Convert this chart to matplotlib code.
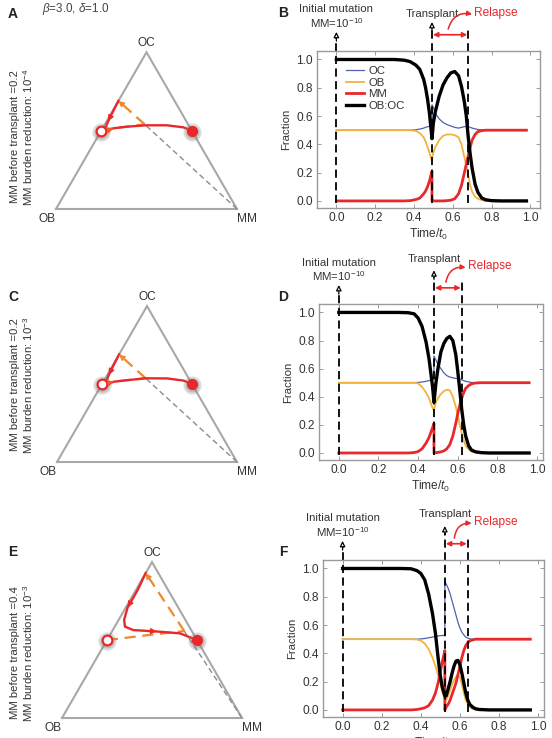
import numpy as np
import matplotlib
matplotlib.use("Agg")
import matplotlib.pyplot as plt

plt.rcParams['font.family'] = ['Liberation Sans', 'DejaVu Sans']
plt.rcParams['mathtext.fontset'] = 'custom'
plt.rcParams['mathtext.rm'] = 'Liberation Sans'
plt.rcParams['mathtext.it'] = 'Liberation Sans:italic'

# ---------------- data ----------------
series_names = ["OC", "OB", "MM", "OB:OC"]

# Panel B
tB = [0.0, 0.1, 0.2, 0.3, 0.35, 0.38, 0.41, 0.43, 0.45, 0.46, 0.47, 0.48, 0.493, 0.493,
      0.50, 0.51, 0.53, 0.55, 0.57, 0.59, 0.61, 0.63, 0.645, 0.66, 0.67, 0.68, 0.69, 0.70,
      0.715, 0.73, 0.75, 0.77, 0.80, 0.85, 0.90, 0.98]
ocB = [0.5, 0.5, 0.5, 0.5, 0.5, 0.5, 0.503, 0.508, 0.515, 0.52, 0.525, 0.527, 0.53, 0.68,
       0.66, 0.62, 0.58, 0.555, 0.54, 0.53, 0.52, 0.515, 0.52, 0.525, 0.527, 0.525, 0.52, 0.515,
       0.51, 0.505, 0.502, 0.5, 0.5, 0.5, 0.5, 0.5]
obB = [0.5, 0.5, 0.5, 0.5, 0.5, 0.5, 0.495, 0.48, 0.45, 0.42, 0.38, 0.34, 0.28, 0.30,
       0.34, 0.38, 0.43, 0.46, 0.47, 0.47, 0.465, 0.45, 0.40, 0.31, 0.25, 0.18, 0.11, 0.065,
       0.03, 0.015, 0.005, 0.0, 0.0, 0.0, 0.0, 0.0]
mmB = [0.0, 0.0, 0.0, 0.0, 0.0, 0.002, 0.01, 0.02, 0.05, 0.07, 0.10, 0.14, 0.21, 0.0,
       0.0, 0.0, 0.0, 0.0, 0.002, 0.005, 0.015, 0.05, 0.11, 0.20, 0.26, 0.32, 0.38, 0.43,
       0.47, 0.49, 0.497, 0.5, 0.5, 0.5, 0.5, 0.5]
ratioB = [1.0, 1.0, 1.0, 1.0, 0.995, 0.985, 0.96, 0.93, 0.86, 0.80, 0.72, 0.62, 0.44, 0.44,
          0.55, 0.63, 0.74, 0.82, 0.87, 0.905, 0.915, 0.885, 0.81, 0.70, 0.60, 0.45, 0.33, 0.23,
          0.12, 0.06, 0.02, 0.008, 0.002, 0.0, 0.0, 0.0]

# Panel D
tD = [0.0, 0.1, 0.2, 0.3, 0.35, 0.38, 0.40, 0.42, 0.44, 0.455, 0.465, 0.473, 0.48, 0.48,
      0.49, 0.50, 0.515, 0.53, 0.545, 0.56, 0.575, 0.59, 0.60, 0.61, 0.62, 0.63, 0.64, 0.655,
      0.67, 0.69, 0.72, 0.76, 0.85, 0.96]
ocD = [0.5, 0.5, 0.5, 0.5, 0.5, 0.5, 0.502, 0.505, 0.51, 0.515, 0.52, 0.523, 0.525, 0.69,
       0.66, 0.63, 0.60, 0.57, 0.55, 0.54, 0.535, 0.53, 0.53, 0.525, 0.52, 0.515, 0.51, 0.505,
       0.502, 0.5, 0.5, 0.5, 0.5, 0.5]
obD = [0.5, 0.5, 0.5, 0.5, 0.5, 0.5, 0.495, 0.47, 0.43, 0.39, 0.35, 0.32, 0.30, 0.31,
       0.36, 0.39, 0.42, 0.44, 0.45, 0.445, 0.40, 0.33, 0.27, 0.20, 0.14, 0.09, 0.05, 0.025,
       0.01, 0.004, 0.0, 0.0, 0.0, 0.0]
mmD = [0.0, 0.0, 0.0, 0.0, 0.0, 0.003, 0.01, 0.03, 0.07, 0.11, 0.15, 0.18, 0.21, 0.0,
       0.002, 0.004, 0.008, 0.015, 0.03, 0.06, 0.12, 0.21, 0.28, 0.34, 0.39, 0.43, 0.46, 0.48,
       0.492, 0.498, 0.5, 0.5, 0.5, 0.5]
ratioD = [1.0, 1.0, 1.0, 1.0, 0.998, 0.99, 0.96, 0.90, 0.79, 0.67, 0.56, 0.47, 0.36, 0.36,
          0.50, 0.60, 0.72, 0.78, 0.815, 0.83, 0.80, 0.70, 0.58, 0.45, 0.31, 0.20, 0.12, 0.05,
          0.02, 0.008, 0.002, 0.0, 0.0, 0.0]

# Panel F
tF = [0.0, 0.1, 0.2, 0.3, 0.35, 0.38, 0.40, 0.42, 0.44, 0.46, 0.475, 0.49, 0.50, 0.51, 0.523, 0.523,
      0.53, 0.54, 0.55, 0.56, 0.57, 0.58, 0.59, 0.60, 0.61, 0.62, 0.63, 0.64, 0.65, 0.665,
      0.68, 0.70, 0.75, 0.85, 0.96]
ocF = [0.5, 0.5, 0.5, 0.5, 0.5, 0.5, 0.502, 0.505, 0.51, 0.515, 0.52, 0.523, 0.525, 0.527, 0.525, 0.91,
       0.89, 0.86, 0.82, 0.77, 0.72, 0.67, 0.62, 0.58, 0.55, 0.53, 0.515, 0.508, 0.503, 0.5,
       0.5, 0.5, 0.5, 0.5, 0.5]
obF = [0.5, 0.5, 0.5, 0.5, 0.5, 0.498, 0.49, 0.47, 0.43, 0.37, 0.31, 0.24, 0.19, 0.13, 0.07, 0.07,
       0.07, 0.10, 0.14, 0.18, 0.21, 0.235, 0.245, 0.23, 0.18, 0.12, 0.07, 0.04, 0.02, 0.008,
       0.003, 0.0, 0.0, 0.0, 0.0]
mmF = [0.0, 0.0, 0.0, 0.0, 0.0, 0.003, 0.008, 0.015, 0.03, 0.07, 0.12, 0.20, 0.27, 0.34, 0.42, 0.0,
       0.02, 0.04, 0.07, 0.11, 0.15, 0.19, 0.25, 0.31, 0.37, 0.42, 0.455, 0.475, 0.488, 0.495,
       0.5, 0.5, 0.5, 0.5, 0.5]
ratioF = [1.0, 1.0, 1.0, 1.0, 0.998, 0.985, 0.965, 0.92, 0.82, 0.68, 0.54, 0.35, 0.24, 0.16, 0.10, 0.10,
          0.10, 0.15, 0.20, 0.26, 0.31, 0.345, 0.35, 0.32, 0.26, 0.19, 0.12, 0.07, 0.04, 0.02,
          0.008, 0.003, 0.0, 0.0, 0.0]

# event times (initial mutation, transplant, relapse)
events = {"B": (0.0, 0.493, 0.68), "D": (0.0, 0.48, 0.62), "F": (0.0, 0.523, 0.64)}

# ternary trajectories: (OC fraction, MM fraction)
healthy = (0.5, 0.0)
disease = (0.5, 0.5)
# A
preA_oc = [0.5, 0.515, 0.525, 0.54]
preA_mm = [0.0, 0.06, 0.128, 0.22]
jumpA = (0.69, 0.0)
postA_oc = [0.69, 0.62, 0.56, 0.515, 0.50, 0.515, 0.525, 0.534, 0.534, 0.521, 0.5]
postA_mm = [0.0, 0.004, 0.008, 0.015, 0.03, 0.06, 0.128, 0.229, 0.345, 0.443, 0.5]
# C
preC_oc = [0.5, 0.515, 0.525, 0.537]
preC_mm = [0.0, 0.06, 0.128, 0.224]
jumpC = (0.69, 0.0)
postC_oc = [0.69, 0.62, 0.56, 0.52, 0.505, 0.515, 0.525, 0.537, 0.536, 0.522, 0.5]
postC_mm = [0.0, 0.004, 0.008, 0.015, 0.03, 0.06, 0.128, 0.224, 0.345, 0.443, 0.5]
# E
preE_oc = [0.5, 0.53, 0.558]
preE_mm = [0.0, 0.2, 0.40]
jumpE = (0.93, 0.0)
postE_oc = [0.93, 0.82, 0.71, 0.63, 0.586, 0.564, 0.555, 0.543, 0.5]
postE_mm = [0.0, 0.01, 0.01, 0.03, 0.057, 0.114, 0.249, 0.384, 0.5]

# ---------------- style ----------------
C_OC = "#4f62a8"
C_OB = "#f2b33d"
C_MM = "#e8282b"
C_RAT = "#000000"
C_ORANGE = "#ee8a2a"
C_TXT = "#333333"
C_FRAME = "#9a9a9a"
FS = 8.2
FS_TICK = 8.6

W, H = 552, 738
fig = plt.figure(figsize=(W / 100, H / 100), dpi=100)


def add_ax(l, t, r, b):
    return fig.add_axes([l / W, 1 - b / H, (r - l) / W, (b - t) / H])


def tern(oc, mm):
    oc = np.asarray(oc, float)
    mm = np.asarray(mm, float)
    return mm + 0.5 * oc, oc * np.sqrt(3) / 2


def head(ax, x0, y0, x1, y1, col, scale=9):
    d = np.array([x1 - x0, y1 - y0])
    d = d / np.hypot(*d)
    ax.annotate("", xy=(x1, y1), xytext=(x1 - 0.035 * d[0], y1 - 0.035 * d[1]),
                arrowprops=dict(arrowstyle="-|>", color=col, lw=0.8, mutation_scale=scale,
                                shrinkA=0, shrinkB=0))


def triangle_panel(ox, oy, wid, pre, jump, post, side1, side2, sidey, letter, lettery, arrows):
    pad_l, pad_r, pad_t, pad_b = 45, 45, 180, 25
    ax = add_ax(ox - pad_l, oy - pad_t, ox + wid + pad_r, oy + pad_b)
    ax.set_xlim(-pad_l / wid, 1 + pad_r / wid)
    ax.set_ylim(-pad_b / wid, pad_t / wid)
    ax.axis("off")
    cx, cy = tern([0, 0, 1, 0], [0, 1, 0, 0])
    ax.plot(cx, cy, color="#a8a8a8", lw=1.5, solid_joinstyle="miter")
    ax.text(0.5, np.sqrt(3) / 2 + 0.05, "OC", ha="center", va="center", fontsize=8.6, color=C_TXT)
    ax.text(-0.05, -0.055, "OB", ha="center", va="center", fontsize=8.6, color=C_TXT)
    ax.text(1.055, -0.055, "MM", ha="center", va="center", fontsize=8.6, color=C_TXT)
    # gray dashed from MM corner to transplant point
    px, py = tern([0, pre[0][-1]], [1, pre[1][-1]])
    ax.plot(px, py, ls=(0, (4, 2.5)), color="#8c8c8c", lw=1.0)
    # pre-transplant path (orange dashed)
    x, y = tern(pre[0], pre[1])
    ax.plot(x, y, ls=(0, (5, 3)), color=C_ORANGE, lw=1.6)
    # transplant jump (orange dashed with arrow)
    jx, jy = tern([pre[0][-1], jump[0]], [pre[1][-1], jump[1]])
    ax.plot(jx, jy, ls=(0, (5, 3)), color=C_ORANGE, lw=1.6)
    head(ax, jx[0], jy[0], jx[1], jy[1], C_ORANGE)
    # post-transplant path (red)
    x, y = tern(post[0], post[1])
    ax.plot(x, y, color=C_MM, lw=1.7)
    for (i0, i1, col) in arrows:
        head(ax, x[i0], y[i0], x[i1], y[i1], col)
    # fixed points with glow
    hx, hy = tern([healthy[0]], [healthy[1]])
    dx, dy = tern([disease[0]], [disease[1]])
    for (gx, gy) in [(hx, hy), (dx, dy)]:
        ax.plot(gx, gy - 0.008, "o", ms=13, color="#888888", alpha=0.3, mec="none")
        ax.plot(gx, gy - 0.008, "o", ms=10, color="#777777", alpha=0.3, mec="none")
    ax.plot(hx, hy, "o", ms=7, mfc="white", mec=C_MM, mew=1.6)
    ax.plot(dx, dy, "o", ms=7, color=C_MM, mec=C_MM)
    fig.text(15 / W, 1 - sidey / H, side1, rotation=90, ha="center", va="center", fontsize=FS, color=C_TXT)
    fig.text(28 / W, 1 - sidey / H, side2, rotation=90, ha="center", va="center", fontsize=FS, color=C_TXT)
    fig.text(13 / W, 1 - lettery / H, letter, ha="center", va="center", fontsize=10, fontweight="bold", color="#222222")
    return ax


triangle_panel(56, 209, 181, (preA_oc, preA_mm), jumpA, (postA_oc, postA_mm),
               "MM before transplant =0.2", "MM burden reduction: 10$^{-4}$", 137, "A", 14,
               [(1, 2, C_MM), (4, 5, "#ee5a2a")])
triangle_panel(57, 462, 180, (preC_oc, preC_mm), jumpC, (postC_oc, postC_mm),
               "MM before transplant =0.2", "MM burden reduction: 10$^{-3}$", 385, "C", 297,
               [(1, 2, C_MM), (4, 5, "#ee5a2a")])
triangle_panel(62, 718, 180, (preE_oc, preE_mm), jumpE, (postE_oc, postE_mm),
               "MM before transplant =0.4", "MM burden reduction: 10$^{-3}$", 653, "E", 552,
               [(1, 2, C_MM), (5, 6, C_MM)])

fig.text(42 / W, 1 - 9 / H, r"$\it{\beta}$=3.0, $\it{\delta}$=1.0", ha="left", va="center",
         fontsize=8.4, color="#444444")


def series_panel(box, xlim, t, oc, ob, mm, ratio, ev, letter, letter_y, trans_y, legend=False):
    ax = add_ax(*box)
    ax.set_xlim(*xlim)
    ax.set_ylim(-0.05, 1.06)
    ax.plot(t, oc, color=C_OC, lw=0.9, label=series_names[0])
    ax.plot(t, ob, color=C_OB, lw=1.3, label=series_names[1])
    ax.plot(t, mm, color=C_MM, lw=2.0, label=series_names[2])
    ax.plot(t, ratio, color=C_RAT, lw=2.4, label=series_names[3])
    for s in ax.spines.values():
        s.set_color(C_FRAME)
        s.set_linewidth(1.0)
    ax.set_xticks([0.0, 0.2, 0.4, 0.6, 0.8, 1.0])
    ax.set_yticks([0.0, 0.2, 0.4, 0.6, 0.8, 1.0])
    ax.xaxis.set_major_formatter(matplotlib.ticker.FormatStrFormatter("%.1f"))
    ax.yaxis.set_major_formatter(matplotlib.ticker.FormatStrFormatter("%.1f"))
    ax.tick_params(direction="in", top=True, right=True, length=3, width=0.7, color=C_FRAME,
                   labelsize=FS_TICK, labelcolor=C_TXT, pad=3)
    ax.set_ylabel("Fraction", fontsize=FS, color=C_TXT, labelpad=4)
    ax.set_xlabel("Time/$\\it{t}_0$", fontsize=FS_TICK, color=C_TXT, labelpad=2)
    t0, t1, t2 = ev
    text_y, tip_y = trans_y
    dash = (0, (4.5, 2.5))
    # initial mutation
    ax.plot([t0, t0], [-0.015, 1.15], ls=dash, color="k", lw=1.3, clip_on=False)
    ax.annotate("", xy=(t0, 1.195), xytext=(t0, 1.13), annotation_clip=False,
                arrowprops=dict(arrowstyle="-|>", fc="white", ec="black", lw=0.9, mutation_scale=8,
                                shrinkA=0, shrinkB=0))
    ax.text(t0, 1.355, "Initial mutation", ha="center", va="center", fontsize=FS, color=C_TXT, clip_on=False)
    ax.text(t0, 1.26, "MM=10$^{-10}$", ha="center", va="center", fontsize=FS, color=C_TXT, clip_on=False)
    # transplant
    ax.plot([t1, t1], [-0.015, tip_y - 0.05], ls=dash, color="k", lw=1.3, clip_on=False)
    ax.annotate("", xy=(t1, tip_y), xytext=(t1, tip_y - 0.065), annotation_clip=False,
                arrowprops=dict(arrowstyle="-|>", fc="white", ec="black", lw=0.9, mutation_scale=8,
                                shrinkA=0, shrinkB=0))
    ax.text(t1, text_y, "Transplant", ha="center", va="center", fontsize=FS, color=C_TXT, clip_on=False)
    # relapse
    ax.plot([t2, t2], [-0.015, 1.22], ls=dash, color="k", lw=1.3, clip_on=False)
    ax.annotate("", xy=(t2 - 0.005, 1.175), xytext=(t1 + 0.005, 1.175), annotation_clip=False,
                arrowprops=dict(arrowstyle="<|-|>", color=C_MM, lw=1.2, mutation_scale=7,
                                shrinkA=0, shrinkB=0))
    mid = 0.5 * (t1 + t2)
    ax.annotate("", xy=(t2 + 0.02, 1.32), xytext=(mid - 0.01, 1.215), annotation_clip=False,
                arrowprops=dict(arrowstyle="-|>", color=C_MM, lw=1.1, mutation_scale=7,
                                connectionstyle="arc3,rad=-0.45", shrinkA=0, shrinkB=0))
    ax.text(t2 + 0.03, 1.33, "Relapse", ha="left", va="center", fontsize=FS + 0.4, color=C_MM, clip_on=False)
    if legend:
        ax.legend(loc="upper left", bbox_to_anchor=(0.13, 0.905), frameon=False, fontsize=FS,
                  handlelength=1.6, handletextpad=0.35, labelspacing=0.15, borderaxespad=0,
                  borderpad=0, labelcolor=C_TXT)
    fig.text(283 / W, 1 - letter_y / H, letter, ha="center", va="center", fontsize=10,
             fontweight="bold", color="#222222")
    return ax


series_panel((317, 51, 540, 208), (-0.1, 1.05), tB, ocB, obB, mmB, ratioB, events["B"], "B", 13,
             (1.32, 1.265), legend=True)
series_panel((319, 304, 543, 460), (-0.1, 1.03), tD, ocD, obD, mmD, ratioD, events["D"], "D", 297,
             (1.38, 1.30))
series_panel((323, 560, 544, 717), (-0.1, 1.03), tF, ocF, obF, mmF, ratioF, events["F"], "F", 552,
             (1.387, 1.30))

fig.savefig("out.png", dpi=100)
